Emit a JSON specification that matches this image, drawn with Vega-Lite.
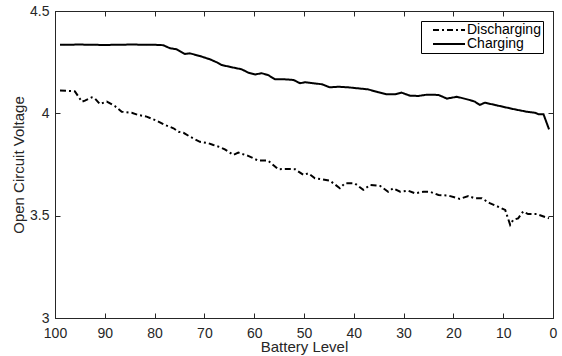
{
  "$schema": "https://vega.github.io/schema/vega-lite/v6.json",
  "width": 498,
  "height": 307,
  "autosize": {"type": "none"},
  "padding": {"left": 55, "top": 11, "right": 9, "bottom": 38},
  "background": "white",
  "config": {
    "font": "Liberation Sans",
    "view": {"stroke": "#262626", "strokeWidth": 1},
    "axis": {
      "grid": false,
      "domainColor": "#262626",
      "tickColor": "#262626",
      "labelColor": "#262626",
      "titleColor": "#262626",
      "labelFont": "Liberation Sans",
      "titleFont": "Liberation Sans",
      "labelFontSize": 14,
      "titleFontSize": 15,
      "titleFontWeight": "normal",
      "tickSize": -5,
      "tickWidth": 1
    }
  },
  "data": {"values": [
    {"level": 99, "v": 4.335, "s": "Charging"},
    {"level": 95, "v": 4.336, "s": "Charging"},
    {"level": 90, "v": 4.334, "s": "Charging"},
    {"level": 85, "v": 4.336, "s": "Charging"},
    {"level": 80, "v": 4.335, "s": "Charging"},
    {"level": 78.3, "v": 4.333, "s": "Charging"},
    {"level": 76.9, "v": 4.318, "s": "Charging"},
    {"level": 75.6, "v": 4.313, "s": "Charging"},
    {"level": 73.9, "v": 4.29, "s": "Charging"},
    {"level": 72.9, "v": 4.293, "s": "Charging"},
    {"level": 70.9, "v": 4.28, "s": "Charging"},
    {"level": 68.9, "v": 4.264, "s": "Charging"},
    {"level": 67.3, "v": 4.247, "s": "Charging"},
    {"level": 66.5, "v": 4.236, "s": "Charging"},
    {"level": 64.5, "v": 4.225, "s": "Charging"},
    {"level": 62.5, "v": 4.215, "s": "Charging"},
    {"level": 61.2, "v": 4.199, "s": "Charging"},
    {"level": 59.8, "v": 4.19, "s": "Charging"},
    {"level": 58.5, "v": 4.196, "s": "Charging"},
    {"level": 57.2, "v": 4.187, "s": "Charging"},
    {"level": 55.8, "v": 4.166, "s": "Charging"},
    {"level": 53.8, "v": 4.166, "s": "Charging"},
    {"level": 52.1, "v": 4.163, "s": "Charging"},
    {"level": 50.8, "v": 4.147, "s": "Charging"},
    {"level": 49.8, "v": 4.152, "s": "Charging"},
    {"level": 48.1, "v": 4.147, "s": "Charging"},
    {"level": 46.4, "v": 4.142, "s": "Charging"},
    {"level": 44.8, "v": 4.127, "s": "Charging"},
    {"level": 43.1, "v": 4.13, "s": "Charging"},
    {"level": 41.1, "v": 4.127, "s": "Charging"},
    {"level": 39.1, "v": 4.122, "s": "Charging"},
    {"level": 37.1, "v": 4.117, "s": "Charging"},
    {"level": 35.1, "v": 4.103, "s": "Charging"},
    {"level": 33.4, "v": 4.093, "s": "Charging"},
    {"level": 31.7, "v": 4.093, "s": "Charging"},
    {"level": 30.4, "v": 4.101, "s": "Charging"},
    {"level": 28.7, "v": 4.086, "s": "Charging"},
    {"level": 27.0, "v": 4.085, "s": "Charging"},
    {"level": 25.4, "v": 4.091, "s": "Charging"},
    {"level": 23.0, "v": 4.09, "s": "Charging"},
    {"level": 21.3, "v": 4.072, "s": "Charging"},
    {"level": 19.3, "v": 4.081, "s": "Charging"},
    {"level": 16.7, "v": 4.065, "s": "Charging"},
    {"level": 15.7, "v": 4.057, "s": "Charging"},
    {"level": 14.7, "v": 4.041, "s": "Charging"},
    {"level": 13.7, "v": 4.052, "s": "Charging"},
    {"level": 11.3, "v": 4.039, "s": "Charging"},
    {"level": 8.0, "v": 4.021, "s": "Charging"},
    {"level": 5.3, "v": 4.008, "s": "Charging"},
    {"level": 3.6, "v": 4.003, "s": "Charging"},
    {"level": 2.9, "v": 3.995, "s": "Charging"},
    {"level": 1.9, "v": 3.995, "s": "Charging"},
    {"level": 0.8, "v": 3.922, "s": "Charging"},
    {"level": 99, "v": 4.111, "s": "Discharging"},
    {"level": 96.6, "v": 4.109, "s": "Discharging"},
    {"level": 96, "v": 4.107, "s": "Discharging"},
    {"level": 94.6, "v": 4.057, "s": "Discharging"},
    {"level": 94, "v": 4.062, "s": "Discharging"},
    {"level": 92.6, "v": 4.078, "s": "Discharging"},
    {"level": 92, "v": 4.073, "s": "Discharging"},
    {"level": 91, "v": 4.046, "s": "Discharging"},
    {"level": 89.6, "v": 4.057, "s": "Discharging"},
    {"level": 88, "v": 4.036, "s": "Discharging"},
    {"level": 86.6, "v": 4.008, "s": "Discharging"},
    {"level": 84.6, "v": 4.003, "s": "Discharging"},
    {"level": 83.3, "v": 3.992, "s": "Discharging"},
    {"level": 81.6, "v": 3.984, "s": "Discharging"},
    {"level": 79.6, "v": 3.964, "s": "Discharging"},
    {"level": 77.9, "v": 3.943, "s": "Discharging"},
    {"level": 76.2, "v": 3.927, "s": "Discharging"},
    {"level": 75.2, "v": 3.91, "s": "Discharging"},
    {"level": 74.2, "v": 3.905, "s": "Discharging"},
    {"level": 72.9, "v": 3.886, "s": "Discharging"},
    {"level": 70.9, "v": 3.861, "s": "Discharging"},
    {"level": 69.2, "v": 3.854, "s": "Discharging"},
    {"level": 68.2, "v": 3.845, "s": "Discharging"},
    {"level": 66.9, "v": 3.835, "s": "Discharging"},
    {"level": 65.9, "v": 3.824, "s": "Discharging"},
    {"level": 64.2, "v": 3.797, "s": "Discharging"},
    {"level": 63.2, "v": 3.808, "s": "Discharging"},
    {"level": 61.2, "v": 3.792, "s": "Discharging"},
    {"level": 59.2, "v": 3.769, "s": "Discharging"},
    {"level": 57.2, "v": 3.769, "s": "Discharging"},
    {"level": 55.2, "v": 3.727, "s": "Discharging"},
    {"level": 53.8, "v": 3.728, "s": "Discharging"},
    {"level": 51.8, "v": 3.727, "s": "Discharging"},
    {"level": 50.1, "v": 3.699, "s": "Discharging"},
    {"level": 49.1, "v": 3.707, "s": "Discharging"},
    {"level": 47.8, "v": 3.683, "s": "Discharging"},
    {"level": 46.4, "v": 3.678, "s": "Discharging"},
    {"level": 44.8, "v": 3.671, "s": "Discharging"},
    {"level": 42.8, "v": 3.634, "s": "Discharging"},
    {"level": 41.8, "v": 3.658, "s": "Discharging"},
    {"level": 39.8, "v": 3.658, "s": "Discharging"},
    {"level": 38.1, "v": 3.626, "s": "Discharging"},
    {"level": 36.7, "v": 3.65, "s": "Discharging"},
    {"level": 34.7, "v": 3.645, "s": "Discharging"},
    {"level": 33.1, "v": 3.617, "s": "Discharging"},
    {"level": 32.1, "v": 3.634, "s": "Discharging"},
    {"level": 30.7, "v": 3.617, "s": "Discharging"},
    {"level": 29.1, "v": 3.622, "s": "Discharging"},
    {"level": 27.7, "v": 3.609, "s": "Discharging"},
    {"level": 26.0, "v": 3.617, "s": "Discharging"},
    {"level": 24.7, "v": 3.617, "s": "Discharging"},
    {"level": 23.0, "v": 3.601, "s": "Discharging"},
    {"level": 21.0, "v": 3.598, "s": "Discharging"},
    {"level": 18.7, "v": 3.582, "s": "Discharging"},
    {"level": 17.0, "v": 3.596, "s": "Discharging"},
    {"level": 15.7, "v": 3.585, "s": "Discharging"},
    {"level": 14.3, "v": 3.585, "s": "Discharging"},
    {"level": 12.7, "v": 3.561, "s": "Discharging"},
    {"level": 11.3, "v": 3.547, "s": "Discharging"},
    {"level": 9.6, "v": 3.528, "s": "Discharging"},
    {"level": 8.6, "v": 3.455, "s": "Discharging"},
    {"level": 8.0, "v": 3.479, "s": "Discharging"},
    {"level": 7.0, "v": 3.487, "s": "Discharging"},
    {"level": 6.0, "v": 3.52, "s": "Discharging"},
    {"level": 5.0, "v": 3.508, "s": "Discharging"},
    {"level": 3.3, "v": 3.508, "s": "Discharging"},
    {"level": 0.8, "v": 3.487, "s": "Discharging"}
  ]},
  "layer": [
    {
      "mark": {"type": "line", "color": "black", "strokeWidth": 2, "clip": true},
      "encoding": {
        "x": {
          "field": "level", "type": "quantitative",
          "scale": {"domain": [0, 100], "reverse": true, "nice": false, "zero": false},
          "axis": {"title": "Battery Level", "values": [0,10,20,30,40,50,60,70,80,90,100], "labelPadding": 13, "titlePadding": -1, "labelFlush": false, "labelOverlap": false}
        },
        "y": {
          "field": "v", "type": "quantitative",
          "scale": {"domain": [3, 4.5], "nice": false, "zero": false},
          "axis": {"title": "Open Circuit Voltage", "values": [3, 3.5, 4, 4.5], "labelExpr": "datum.value", "labelPadding": 11, "titlePadding": 3, "labelOverlap": false}
        },
        "strokeDash": {
          "field": "s", "type": "nominal",
          "scale": {"domain": ["Discharging", "Charging"], "range": [[6, 3, 2, 3], [1, 0]]},
          "legend": {
            "title": null,
            "orient": "none",
            "legendX": 366,
            "legendY": 10,
            "padding": 2,
            "rowPadding": 0,
            "strokeColor": "black",
            "fillColor": "white",
            "labelFontSize": 14,
            "labelFont": "Liberation Sans",
            "labelColor": "black",
            "symbolType": "M-0.2,0H6.2",
            "symbolSize": 100,
            "symbolStrokeWidth": 2,
            "symbolStrokeColor": "black",
            "symbolOffset": 4,
            "labelOffset": 26
          }
        }
      }
    },
    {
      "mark": {"type": "line", "opacity": 0},
      "encoding": {
        "x": {
          "field": "level", "type": "quantitative",
          "axis": {"orient": "top", "title": null, "labels": false, "values": [0,10,20,30,40,50,60,70,80,90,100]}
        },
        "y": {
          "field": "v", "type": "quantitative",
          "axis": {"orient": "right", "title": null, "labels": false, "values": [3, 3.5, 4, 4.5]}
        }
      }
    }
  ],
  "resolve": {"axis": {"x": "independent", "y": "independent"}}
}
